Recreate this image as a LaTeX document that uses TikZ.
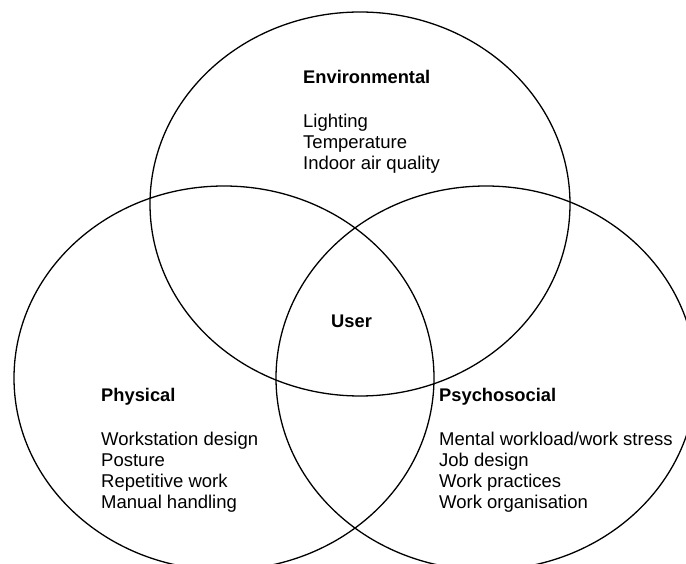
\documentclass[tikz,border=0pt]{standalone}
\usepackage{fontspec}
\setmainfont{Liberation Sans}
\begin{document}
\begin{tikzpicture}[x=1pt,y=-1pt,
  venn/.style={draw=black,line width=1.3pt},
  txt/.style={anchor=base west,inner sep=0pt,font=\fontsize{18.5}{21}\selectfont},
  head/.style={txt,font=\fontsize{18.3}{21}\selectfont\bfseries}]
\clip (0,0) rectangle (686,564);
\fill[white] (0,0) rectangle (686,564);
% ellipses
\draw[venn] (360,204) ellipse [x radius=210pt, y radius=192pt];
\draw[venn] (224,378) ellipse [x radius=210pt, y radius=192pt];
\draw[venn] (486,378) ellipse [x radius=210pt, y radius=192pt];
% Environmental
\node[head] (env) at (303,84) {Environmental};
\node[txt] (env1) at (303,128) {Lighting};
\node[txt] (env2) at (303,149) {Temperature};
\node[txt] (env3) at (303,170) {Indoor air quality};
% User
\node[head] (user) at (331,327) {User};
% Physical
\node[head] (phy) at (101,401) {Physical};
\node[txt] (phy1) at (101,445) {Workstation design};
\node[txt] (phy2) at (101,466) {Posture};
\node[txt] (phy3) at (101,487) {Repetitive work};
\node[txt] (phy4) at (101,508) {Manual handling};
% Psychosocial
\node[head] (psy) at (439,401) {Psychosocial};
\node[txt] (psy1) at (439,445) {Mental workload/work stress};
\node[txt] (psy2) at (439,466) {Job design};
\node[txt] (psy3) at (439,487) {Work practices};
\node[txt] (psy4) at (439,508) {Work organisation};
\end{tikzpicture}
\end{document}
